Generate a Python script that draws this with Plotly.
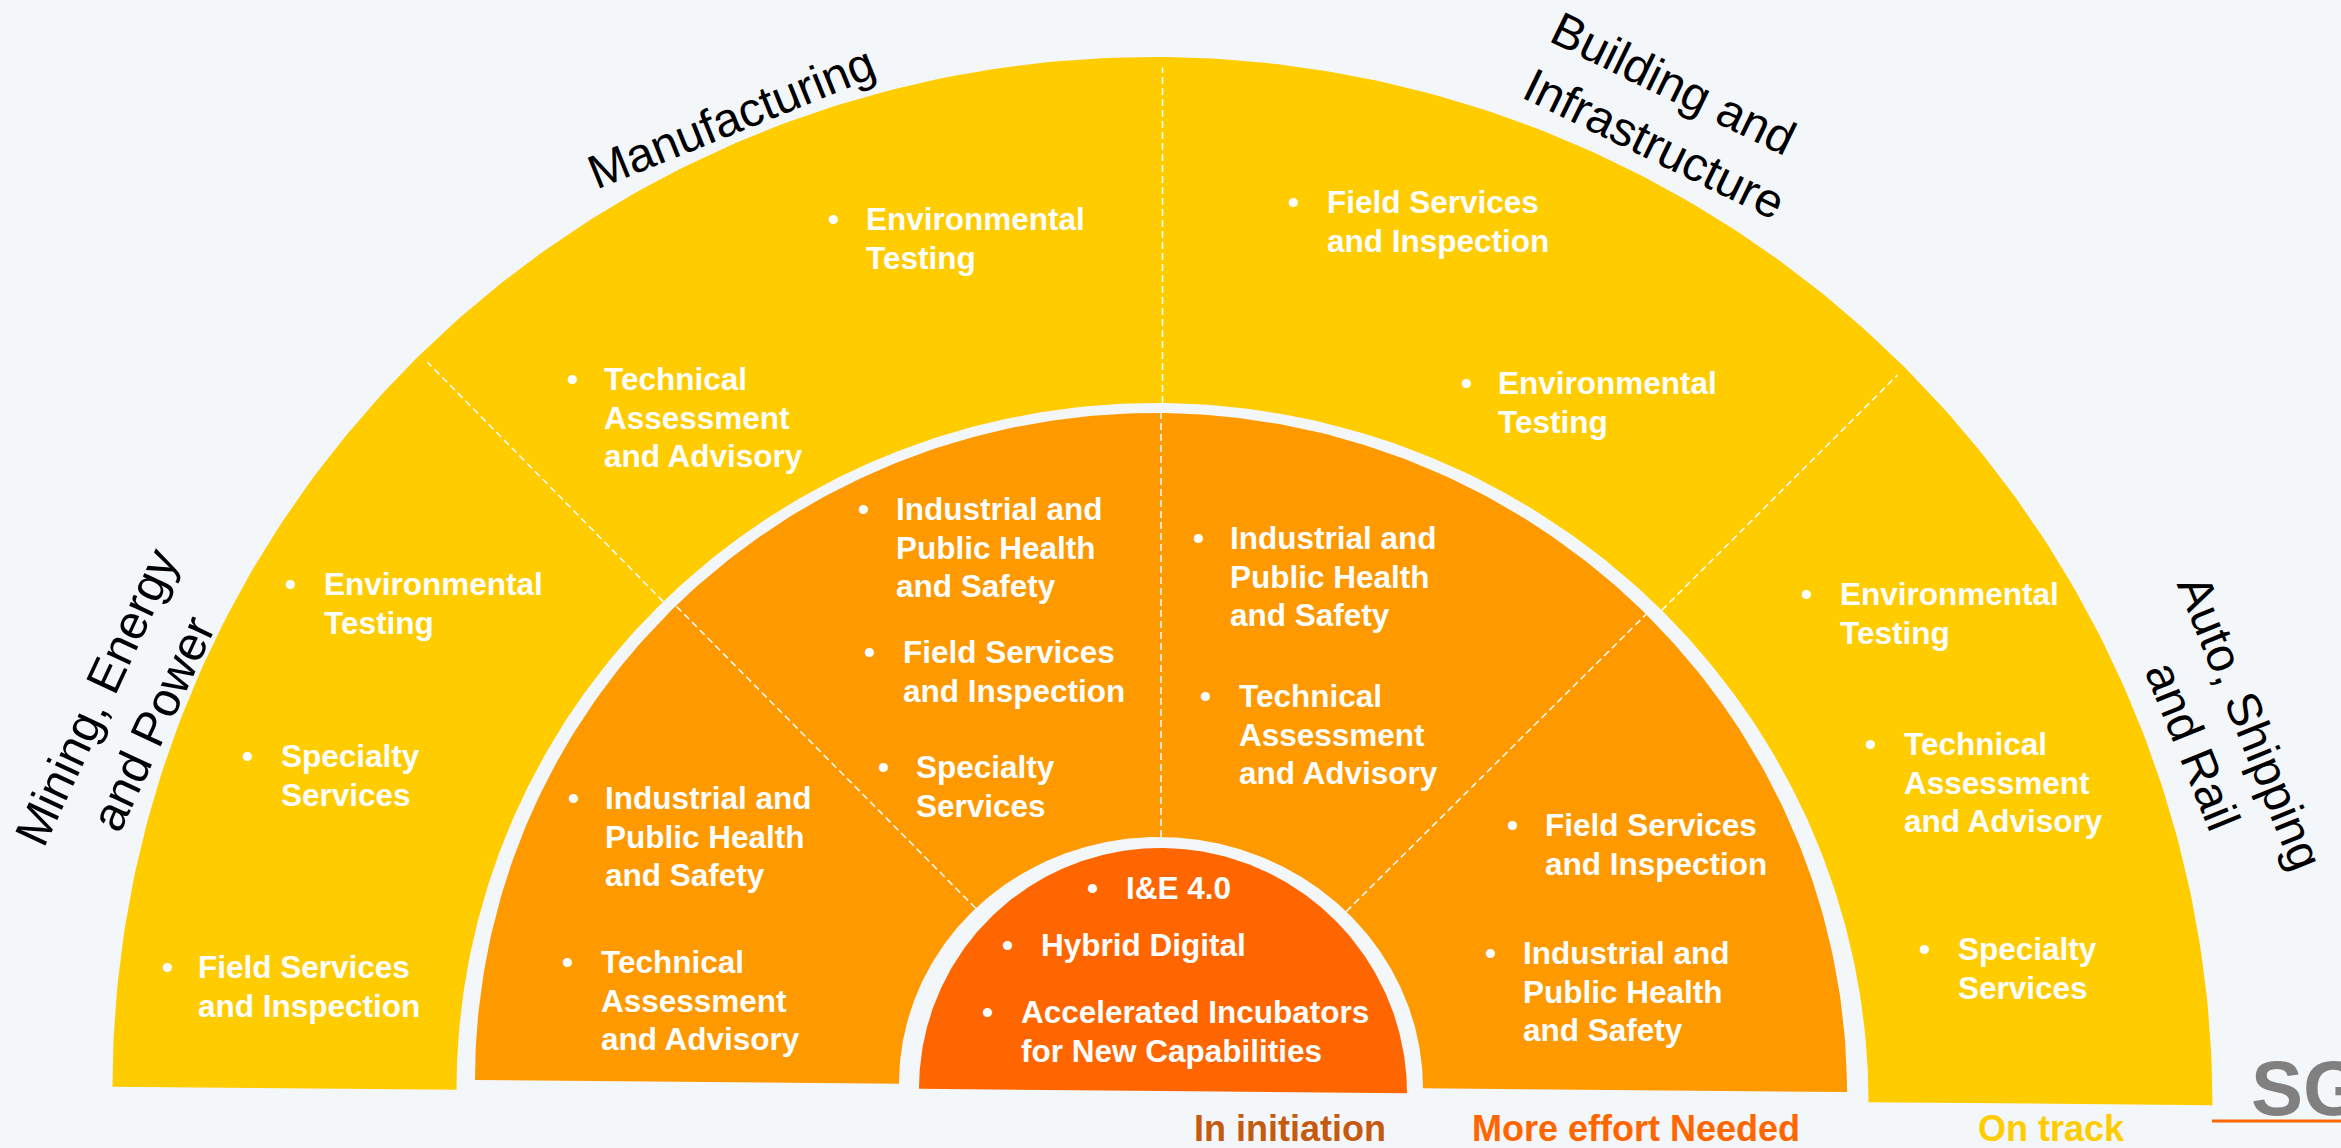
import numpy as np
import plotly.graph_objects as go

W, H = 2341, 1148
BG = "#F3F7FA"
FONT = "Liberation Sans, Arial, sans-serif"

# ---------------- data ----------------
sectors = ["Mining, Energy<br>and Power", "Manufacturing",
           "Building and<br>Infrastructure", "Auto, Shipping<br>and Rail"]

on_track_items = [
    [["Environmental", "Testing"], ["Specialty", "Services"], ["Field Services", "and Inspection"]],
    [["Technical", "Assessment", "and Advisory"], ["Environmental", "Testing"]],
    [["Field Services", "and Inspection"], ["Environmental", "Testing"]],
    [["Environmental", "Testing"], ["Technical", "Assessment", "and Advisory"], ["Specialty", "Services"]],
]
more_effort_items = [
    [["Industrial and", "Public Health", "and Safety"], ["Technical", "Assessment", "and Advisory"]],
    [["Industrial and", "Public Health", "and Safety"], ["Field Services", "and Inspection"], ["Specialty", "Services"]],
    [["Industrial and", "Public Health", "and Safety"], ["Technical", "Assessment", "and Advisory"]],
    [["Field Services", "and Inspection"], ["Industrial and", "Public Health", "and Safety"]],
]
in_initiation_items = [["I&E 4.0"], ["Hybrid Digital"], ["Accelerated Incubators", "for New Capabilities"]]

status_labels = ["In initiation", "More effort Needed", "On track"]
status_colors = ["#C55A11", "#FF6600", "#FFCC00"]
divider_angles = [135, 90, 45]
logo_text = "SG"

# ---------------- layout / positions (pixels) ----------------
# (bullet x, text x, first-line y)
pos_on_track = [
    [(290, 322, 584), (247, 279, 756), (167, 196, 967)],
    [(572, 602, 379), (833, 864, 219)],
    [(1293, 1325, 202), (1466, 1496, 383)],
    [(1806, 1838, 594), (1870, 1902, 744), (1924, 1956, 949)],
]
pos_more_effort = [
    [(573, 603, 798), (567, 599, 962)],
    [(863, 894, 509), (869, 901, 652), (883, 914, 767)],
    [(1198, 1228, 538), (1205, 1237, 696)],
    [(1512, 1543, 825), (1490, 1521, 953)],
]
pos_initiation = [(1092, 1124, 888), (1007, 1039, 945), (987, 1019, 1012)]

sector_label_pos = [(124, 710, -65, "center"), (731, 117, -22, "center"),
                    (1668, 115, 26, "left"), (2222, 734, 68, "center")]
status_pos = [(1290, 1128), (1636, 1128), (2051, 1128)]

rings = [  # cx, cy, outer (rx, ry), inner (rx, ry), colour
    dict(cx=1162.5, cy=1096, ro=(1050, 1039), ri=(706, 693), color="#FFCC00"),
    dict(cx=1161.0, cy=1086, ro=(686, 673), ri=(262, 249), color="#FF9900"),
    dict(cx=1163.0, cy=1091, ro=(244, 243), ri=(0, 0), color="#FF6600"),
]
SKEW = np.tan(np.radians(0.5))
LINE_H = 38.5
ITEM_SIZE = 31.5

fig = go.Figure()


def ring_xy(r):
    t = np.linspace(np.pi, 0, 300)
    xo = r["cx"] + r["ro"][0] * np.cos(t)
    yo = r["cy"] - r["ro"][1] * np.sin(t)
    ti = t[::-1]
    xi = r["cx"] + r["ri"][0] * np.cos(ti)
    yi = r["cy"] - r["ri"][1] * np.sin(ti)
    x = np.concatenate([xo, xi, xo[:1]])
    y = np.concatenate([yo, yi, yo[:1]])
    y = y + SKEW * (x - r["cx"])
    return x, y


for r in rings:
    x, y = ring_xy(r)
    fig.add_trace(go.Scatter(x=x, y=y, mode="lines", fill="toself",
                             fillcolor=r["color"], line=dict(width=0, color=r["color"]),
                             hoverinfo="skip", showlegend=False))

# dashed dividers in the two outer rings
dx, dy = [], []
for r, inset in ((rings[0], 0.99), (rings[1], 1.0)):
    for a in divider_angles:
        ar = np.radians(a)
        p = []
        for (rx, ry) in ((r["ri"][0], r["ri"][1]), (r["ro"][0] * inset, r["ro"][1] * inset)):
            px = r["cx"] + rx * np.cos(ar)
            py = r["cy"] - ry * np.sin(ar) + SKEW * (rx * np.cos(ar))
            p.append((px, py))
        dx += [p[0][0], p[1][0], None]
        dy += [p[0][1], p[1][1], None]
fig.add_trace(go.Scatter(x=dx, y=dy, mode="lines",
                         line=dict(color="white", width=1.5, dash="7px,4px"),
                         hoverinfo="skip", showlegend=False))

ann = []


def add_item(lines, pos, size=ITEM_SIZE):
    bx, tx, y0 = pos
    ann.append(dict(x=bx, y=y0, text="•", xanchor="center", yanchor="middle",
                    showarrow=False, font=dict(family=FONT, size=size, color="white", weight="bold")))
    for i, ln in enumerate(lines):
        ann.append(dict(x=tx, y=y0 + i * LINE_H, text=ln, xanchor="left", yanchor="middle",
                        showarrow=False, font=dict(family=FONT, size=size, color="white", weight="bold")))


for items, poss in zip(on_track_items, pos_on_track):
    for it, p in zip(items, poss):
        add_item(it, p)
for items, poss in zip(more_effort_items, pos_more_effort):
    for it, p in zip(items, poss):
        add_item(it, p)
for it, p in zip(in_initiation_items, pos_initiation):
    add_item(it, p)

for name, (x, y, ang, al) in zip(sectors, sector_label_pos):
    ann.append(dict(x=x, y=y, text=name, textangle=ang, align=al, xanchor="center",
                    yanchor="middle", showarrow=False,
                    font=dict(family=FONT, size=48, color="black")))

for lab, col, (x, y) in zip(status_labels, status_colors, status_pos):
    ann.append(dict(x=x, y=y, text=lab, xanchor="center", yanchor="middle", showarrow=False,
                    font=dict(family=FONT, size=36, color=col, weight="bold")))

# logo
ann.append(dict(x=2249, y=1088, text=logo_text, xanchor="left", yanchor="middle", showarrow=False,
                font=dict(family=FONT, size=78, color="#808080", weight="bold")))
fig.add_trace(go.Scatter(x=[2212, 2345], y=[1121, 1121], mode="lines",
                         line=dict(color="#FF6600", width=3), hoverinfo="skip", showlegend=False))

fig.update_layout(
    width=W, height=H, margin=dict(l=0, r=0, t=0, b=0),
    paper_bgcolor=BG, plot_bgcolor=BG, annotations=ann,
    xaxis=dict(range=[0, W], visible=False, fixedrange=True),
    yaxis=dict(range=[H, 0], visible=False, fixedrange=True),
    showlegend=False,
)

fig.write_html("out.html", config={"displayModeBar": False, "responsive": False},
               post_script="document.body.style.margin='0';document.body.style.overflow='hidden';")
